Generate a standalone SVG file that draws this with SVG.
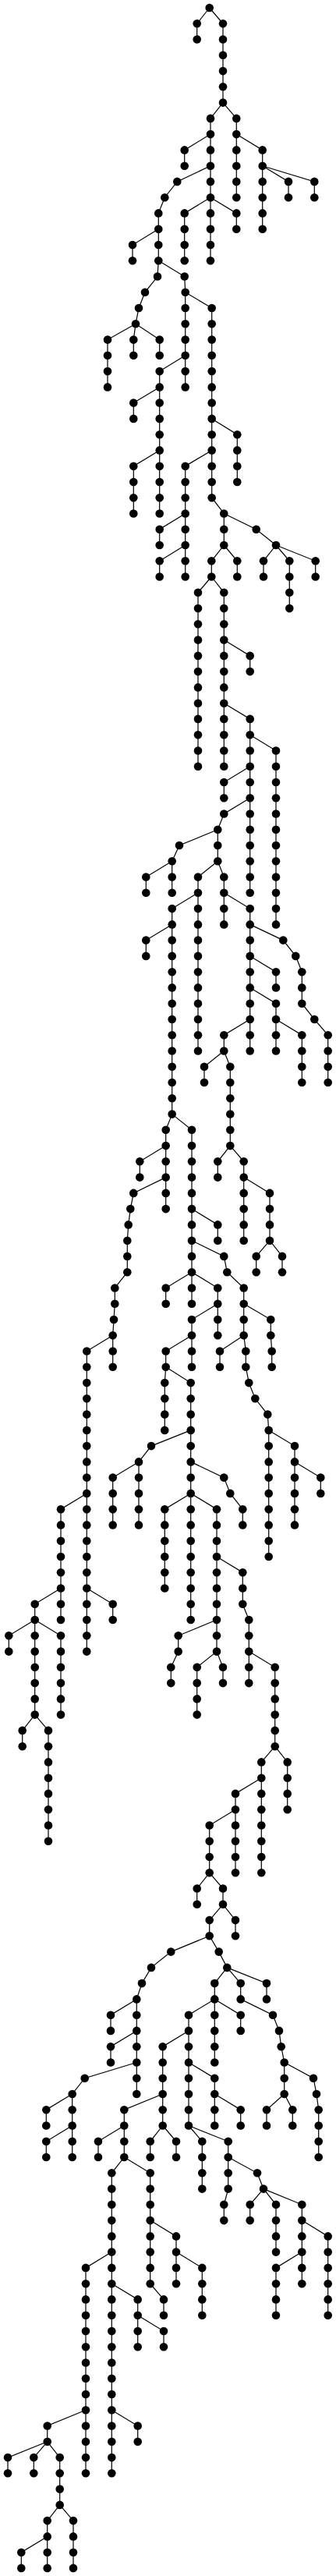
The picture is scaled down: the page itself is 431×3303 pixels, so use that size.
<svg xmlns="http://www.w3.org/2000/svg" width="431" height="3303" viewBox="0 0 431 3303">
<style>
circle{r:5.3px;fill:#000}
#edges path{fill:none;stroke:#000;stroke-width:1.2}
</style>
<rect width="431" height="3303" fill="#fff"/>
<g id="edges">
<path d="M268.7 10L252.7 30.3V50.5"/>
<path d="M268.7 10L286 30.3V131.6"/>
<path d="M286 131.6L270 151.9V334.2"/>
<path d="M286 131.6L303.3 151.9V253.2"/>
<path d="M270 172.1L236.7 192.4V212.7"/>
<path d="M303.3 172.1L336.7 192.4V293.7"/>
<path d="M336.7 212.7L370 232.9V253.2"/>
<path d="M336.7 212.7L403.3 232.9V253.2"/>
<path d="M270 212.7L227.3 232.9L211.3 253.2L203.3 273.4V334.2"/>
<path d="M203.3 293.7L170 314V334.2"/>
<path d="M270 253.2L236.7 273.4V334.2"/>
<path d="M270 253.2L303.3 273.4V293.7"/>
<path d="M203.3 334.2L202 354.5L186 374.8L178 395L174 415.3"/>
<path d="M174 415.3L138 435.6V496.4"/>
<path d="M174 415.3L171.3 435.6V455.8"/>
<path d="M174 415.3L204.7 435.6V455.8"/>
<path d="M203.3 334.2L236.7 354.5L237.7 374.8V496.4"/>
<path d="M237.7 374.8L271.7 395V638.2L287.3 658.5V699"/>
<path d="M237.7 455.8L204.7 476.1V658.5"/>
<path d="M204.7 496.4L171.3 516.6V536.9"/>
<path d="M271.7 536.9L304.3 557.2V618"/>
<path d="M204.7 577.4L171.3 597.7V658.5"/>
<path d="M271.7 577.4L237.7 597.7V739.5"/>
<path d="M237.7 658.5L204.7 678.7V699"/>
<path d="M237.7 699L204.7 719.3V739.5"/>
<path d="M287.3 658.5L328.7 678.7L354 699"/>
<path d="M354 699L338 719.3V739.5"/>
<path d="M354 699L371.3 719.3V780.1"/>
<path d="M354 699L404.7 719.3V739.5"/>
<path d="M287.3 699L271.3 719.3V739.5"/>
<path d="M287.3 699L304.3 719.3V739.5"/>
<path d="M271.3 739.5L254 759.8V982.7"/>
<path d="M271.3 739.5L287.3 759.8V982.7"/>
<path d="M287.3 820.6L320.7 840.9V861.1"/>
<path d="M287.3 901.7L320.7 921.9V1144.8"/>
<path d="M320.7 942.2L354 962.5V1185.4"/>
<path d="M320.7 982.7L287.3 1003V1023.3"/>
<path d="M320.7 1023.3L287.3 1043.5L279.3 1063.8V1104.3"/>
<path d="M279.3 1063.8L230 1084L220.7 1104.3V1144.8"/>
<path d="M220.7 1104.3L187.3 1124.6V1144.8"/>
<path d="M279.3 1104.3L254 1124.6V1347.5"/>
<path d="M279.3 1104.3L287.3 1124.6V1185.4"/>
<path d="M254 1144.8L220.7 1165.1V1428.6"/>
<path d="M220.7 1185.4L187.3 1205.6V1225.9"/>
<path d="M287.3 1144.8L320.7 1165.1V1347.5"/>
<path d="M320.7 1185.4L363.3 1205.6L379.3 1225.9L387.3 1246.2V1286.7L403.3 1307L420.7 1327.2V1388"/>
<path d="M320.7 1225.9L354 1246.2V1266.4"/>
<path d="M320.7 1266.4L354 1286.7V1347.5"/>
<path d="M354 1307L387.3 1327.2V1388"/>
<path d="M320.7 1307L287.3 1327.2V1347.5"/>
<path d="M287.3 1347.5L262 1367.8V1388"/>
<path d="M287.3 1347.5L295.3 1367.8V1469.1"/>
<path d="M220.7 1428.6L212.7 1448.8V1550.1"/>
<path d="M220.7 1428.6L246 1448.8V1631.2"/>
<path d="M212.7 1469.1L179.3 1489.3V1509.6"/>
<path d="M212.7 1509.6L171.3 1529.9L167.3 1550.1L164.7 1570.4L163.3 1590.7V1631.2L147.3 1651.5V1671.7L146 1692L144.7 1712.3"/>
<path d="M144.7 1712.3L111.3 1732.5V2117.6"/>
<path d="M144.7 1712.3V1752.8"/>
<path d="M295.3 1469.1L279.3 1489.3V1509.6"/>
<path d="M295.3 1469.1L312.7 1489.3V1590.7"/>
<path d="M312.7 1509.6L346 1529.9V1590.7"/>
<path d="M346 1590.7L328.7 1610.9V1631.2"/>
<path d="M346 1590.7L362 1610.9V1631.2"/>
<path d="M246 1550.1L279.3 1570.4V1590.7"/>
<path d="M246 1590.7L287.3 1610.9L291.3 1631.2L312.7 1651.5V1712.3L315.3 1732.5V1752.8L319.3 1773.1L327.3 1793.3L343.3 1813.6L344.7 1833.9V1996"/>
<path d="M312.7 1671.7L347.3 1692V1712.3L348.7 1732.5V1752.8"/>
<path d="M312.7 1712.3L282 1732.5V1752.8"/>
<path d="M344.7 1833.9L378 1854.1V1955.4"/>
<path d="M378 1874.4L411.3 1894.6V1914.9"/>
<path d="M246 1631.2L212.7 1651.5V1671.7"/>
<path d="M246 1631.2V1671.7"/>
<path d="M246 1631.2L279.3 1651.5V1712.3"/>
<path d="M279.3 1671.7L246 1692V1752.8"/>
<path d="M246 1712.3L212.7 1732.5V1752.8L211.3 1773.1V1833.9"/>
<path d="M212.7 1752.8L244.7 1773.1V1914.9"/>
<path d="M244.7 1833.9L194 1854.1L178 1874.4V1955.4"/>
<path d="M178 1874.4L144.7 1894.6V1955.4"/>
<path d="M244.7 1874.4L287.3 1894.6L295.3 1914.9L311.3 1935.2V1955.4"/>
<path d="M111.3 1914.9L78 1935.2V2077"/>
<path d="M78 2036.5L44.7 2056.8V2198.6"/>
<path d="M44.7 2077L11.3 2097.3V2117.6"/>
<path d="M44.7 2077L78 2097.3V2198.6"/>
<path d="M111.3 2036.5L144.7 2056.8V2077"/>
<path d="M44.7 2198.6L28.7 2218.9V2239.2"/>
<path d="M44.7 2198.6L62 2218.9V2360.7"/>
<path d="M244.7 1914.9L211.3 1935.2V2036.5"/>
<path d="M244.7 1914.9V2077"/>
<path d="M244.7 1914.9L278 1935.2V2117.6"/>
<path d="M278 1996L311.3 2016.2V2056.8L319.3 2077V2117.6"/>
<path d="M278 2077L228.7 2097.3V2117.6L219.3 2137.8V2158.1"/>
<path d="M278 2117.6L252.7 2137.8V2198.6"/>
<path d="M278 2117.6L286 2137.8V2158.1"/>
<path d="M319.3 2117.6V2158.1"/>
<path d="M319.3 2117.6L352.7 2137.8V2239.2"/>
<path d="M352.7 2239.2L368.7 2259.4V2320.2"/>
<path d="M352.7 2239.2L335.3 2259.4V2401.3"/>
<path d="M335.3 2279.7L302 2299.9V2401.3"/>
<path d="M302 2320.2L268.7 2340.5V2401.3"/>
<path d="M268.7 2401.3L252.7 2421.5V2441.8"/>
<path d="M268.7 2401.3L286 2421.5V2441.8"/>
<path d="M286 2441.8L302 2462.1V2482.3"/>
<path d="M286 2441.8L268.7 2462.1V2482.3"/>
<path d="M268.7 2482.3L219.3 2502.6L194 2522.9L182 2543.1L175.3 2563.4V2685"/>
<path d="M175.3 2563.4L142 2583.7V2603.9"/>
<path d="M175.3 2603.9L142 2624.2V2644.5"/>
<path d="M175.3 2644.5L108.7 2664.7L92.7 2685V2766"/>
<path d="M92.7 2685L59.3 2705.2V2725.5"/>
<path d="M92.7 2725.5L59.3 2745.8V2766"/>
<path d="M268.7 2482.3L280.7 2502.6L291.3 2522.9"/>
<path d="M291.3 2522.9L275.3 2543.1V2644.5"/>
<path d="M291.3 2522.9L308.7 2543.1V2563.4"/>
<path d="M291.3 2522.9L342 2543.1V2563.4"/>
<path d="M308.7 2563.4L350 2583.7L358 2603.9L360.7 2624.2L364.7 2644.5V2685"/>
<path d="M275.3 2563.4L242 2583.7V2725.5"/>
<path d="M275.3 2563.4L308.7 2583.7V2603.9"/>
<path d="M242 2603.9L208.7 2624.2V2725.5"/>
<path d="M242 2644.5L275.3 2664.7V2725.5"/>
<path d="M364.7 2644.5L402 2664.7L406 2685L408.7 2705.2V2766"/>
<path d="M364.7 2685L342 2705.2V2725.5"/>
<path d="M364.7 2685L375.3 2705.2V2725.5"/>
<path d="M275.3 2685L308.7 2705.2V2725.5"/>
<path d="M208.7 2685L159.3 2705.2V2766"/>
<path d="M159.3 2725.5L126 2745.8V2766"/>
<path d="M208.7 2725.5L192.7 2745.8V2766"/>
<path d="M208.7 2725.5L226 2745.8V2766"/>
<path d="M242 2725.5L259.3 2745.8V2806.6"/>
<path d="M242 2725.5L292.7 2745.8V2806.6L287.3 2826.8V2847.1"/>
<path d="M292.7 2766L330 2786.3L338 2806.6"/>
<path d="M338 2806.6L320.7 2826.8V2847.1"/>
<path d="M338 2806.6L354 2826.8V2887.6"/>
<path d="M338 2806.6L387.3 2826.8V2928.2"/>
<path d="M387.3 2847.1L420.7 2867.4V2968.7"/>
<path d="M387.3 2887.6L354 2907.9V2968.7"/>
<path d="M159.3 2766L143.3 2786.3V3171.3"/>
<path d="M159.3 2766L192.7 2786.3V2928.2L210 2948.4V2968.7"/>
<path d="M192.7 2847.1L226 2867.4V2928.2"/>
<path d="M226 2887.6L259.3 2907.9V2968.7"/>
<path d="M143.3 2887.6L110 2907.9V3171.3"/>
<path d="M143.3 2928.2L176.7 2948.4V3009.2"/>
<path d="M176.7 2968.7L210 2989V3009.2"/>
<path d="M110 3090.3L60.7 3110.5V3130.8"/>
<path d="M143.3 3090.3L176.7 3110.5V3130.8"/>
<path d="M60.7 3130.8L10 3151.1V3171.3"/>
<path d="M60.7 3130.8L43.3 3151.1V3171.3"/>
<path d="M60.7 3130.8L76.7 3151.1V3211.9"/>
<path d="M76.7 3211.9L60.7 3232.1V3292.9"/>
<path d="M76.7 3211.9L94 3232.1V3292.9"/>
<path d="M60.7 3252.4L27.3 3272.7V3292.9"/>
</g>
<g id="nodes">
<g id="A0"><circle cx="268.7" cy="10"/></g>
<g id="B0"><circle cx="252.7" cy="30.3"/></g><g id="B1"><circle cx="252.7" cy="50.5"/></g>
<g id="C0"><circle cx="286" cy="30.3"/></g><g id="C1"><circle cx="286" cy="50.5"/></g><g id="C2"><circle cx="286" cy="70.8"/></g><g id="C3"><circle cx="286" cy="91.1"/></g><g id="C4"><circle cx="286" cy="111.3"/></g><g id="C5"><circle cx="286" cy="131.6"/></g>
<g id="D0"><circle cx="270" cy="151.9"/></g><g id="D1"><circle cx="270" cy="172.1"/></g><g id="D2"><circle cx="270" cy="192.4"/></g><g id="D3"><circle cx="270" cy="212.7"/></g><g id="D4"><circle cx="270" cy="232.9"/></g><g id="D5"><circle cx="270" cy="253.2"/></g><g id="D6"><circle cx="270" cy="273.4"/></g><g id="D7"><circle cx="270" cy="293.7"/></g><g id="D8"><circle cx="270" cy="314"/></g><g id="D9"><circle cx="270" cy="334.2"/></g>
<g id="E0"><circle cx="303.3" cy="151.9"/></g><g id="E1"><circle cx="303.3" cy="172.1"/></g><g id="E2"><circle cx="303.3" cy="192.4"/></g><g id="E3"><circle cx="303.3" cy="212.7"/></g><g id="E4"><circle cx="303.3" cy="232.9"/></g><g id="E5"><circle cx="303.3" cy="253.2"/></g>
<g id="F0"><circle cx="236.7" cy="192.4"/></g><g id="F1"><circle cx="236.7" cy="212.7"/></g>
<g id="G0"><circle cx="336.7" cy="192.4"/></g><g id="G1"><circle cx="336.7" cy="212.7"/></g><g id="G2"><circle cx="336.7" cy="232.9"/></g><g id="G3"><circle cx="336.7" cy="253.2"/></g><g id="G4"><circle cx="336.7" cy="273.4"/></g><g id="G5"><circle cx="336.7" cy="293.7"/></g>
<g id="I0"><circle cx="370" cy="232.9"/></g><g id="I1"><circle cx="370" cy="253.2"/></g>
<g id="J0"><circle cx="403.3" cy="232.9"/></g><g id="J1"><circle cx="403.3" cy="253.2"/></g>
<g id="H0"><circle cx="227.3" cy="232.9"/></g><g id="H1"><circle cx="211.3" cy="253.2"/></g><g id="H2"><circle cx="203.3" cy="273.4"/></g><g id="H3"><circle cx="203.3" cy="293.7"/></g><g id="H4"><circle cx="203.3" cy="314"/></g><g id="H5"><circle cx="203.3" cy="334.2"/></g>
<g id="M0"><circle cx="170" cy="314"/></g><g id="M1"><circle cx="170" cy="334.2"/></g>
<g id="K0"><circle cx="236.7" cy="273.4"/></g><g id="K1"><circle cx="236.7" cy="293.7"/></g><g id="K2"><circle cx="236.7" cy="314"/></g><g id="K3"><circle cx="236.7" cy="334.2"/></g>
<g id="L0"><circle cx="303.3" cy="273.4"/></g><g id="L1"><circle cx="303.3" cy="293.7"/></g>
<g id="N0"><circle cx="202" cy="354.5"/></g><g id="N1"><circle cx="186" cy="374.8"/></g><g id="N2"><circle cx="178" cy="395"/></g><g id="N3"><circle cx="174" cy="415.3"/></g>
<g id="Q0"><circle cx="138" cy="435.6"/></g><g id="Q1"><circle cx="138" cy="455.8"/></g><g id="Q2"><circle cx="138" cy="476.1"/></g><g id="Q3"><circle cx="138" cy="496.4"/></g>
<g id="R0"><circle cx="171.3" cy="435.6"/></g><g id="R1"><circle cx="171.3" cy="455.8"/></g>
<g id="S0"><circle cx="204.7" cy="435.6"/></g><g id="S1"><circle cx="204.7" cy="455.8"/></g>
<g id="O0"><circle cx="236.7" cy="354.5"/></g><g id="O1"><circle cx="237.7" cy="374.8"/></g><g id="O2"><circle cx="237.7" cy="395"/></g><g id="O3"><circle cx="237.7" cy="415.3"/></g><g id="O4"><circle cx="237.7" cy="435.6"/></g><g id="O5"><circle cx="237.7" cy="455.8"/></g><g id="O6"><circle cx="237.7" cy="476.1"/></g><g id="O7"><circle cx="237.7" cy="496.4"/></g>
<g id="P0"><circle cx="271.7" cy="395"/></g><g id="P1"><circle cx="271.7" cy="415.3"/></g><g id="P2"><circle cx="271.7" cy="435.6"/></g><g id="P3"><circle cx="271.7" cy="455.8"/></g><g id="P4"><circle cx="271.7" cy="476.1"/></g><g id="P5"><circle cx="271.7" cy="496.4"/></g><g id="P6"><circle cx="271.7" cy="516.6"/></g><g id="P7"><circle cx="271.7" cy="536.9"/></g><g id="P8"><circle cx="271.7" cy="557.2"/></g><g id="P9"><circle cx="271.7" cy="577.4"/></g><g id="P10"><circle cx="271.7" cy="597.7"/></g><g id="P11"><circle cx="271.7" cy="618"/></g><g id="P12"><circle cx="271.7" cy="638.2"/></g><g id="P13"><circle cx="287.3" cy="658.5"/></g><g id="P14"><circle cx="287.3" cy="678.7"/></g><g id="P15"><circle cx="287.3" cy="699"/></g>
<g id="T0"><circle cx="204.7" cy="476.1"/></g><g id="T1"><circle cx="204.7" cy="496.4"/></g><g id="T2"><circle cx="204.7" cy="516.6"/></g><g id="T3"><circle cx="204.7" cy="536.9"/></g><g id="T4"><circle cx="204.7" cy="557.2"/></g><g id="T5"><circle cx="204.7" cy="577.4"/></g><g id="T6"><circle cx="204.7" cy="597.7"/></g><g id="T7"><circle cx="204.7" cy="618"/></g><g id="T8"><circle cx="204.7" cy="638.2"/></g><g id="T9"><circle cx="204.7" cy="658.5"/></g>
<g id="U0"><circle cx="171.3" cy="516.6"/></g><g id="U1"><circle cx="171.3" cy="536.9"/></g>
<g id="V0"><circle cx="304.3" cy="557.2"/></g><g id="V1"><circle cx="304.3" cy="577.4"/></g><g id="V2"><circle cx="304.3" cy="597.7"/></g><g id="V3"><circle cx="304.3" cy="618"/></g>
<g id="W0"><circle cx="171.3" cy="597.7"/></g><g id="W1"><circle cx="171.3" cy="618"/></g><g id="W2"><circle cx="171.3" cy="638.2"/></g><g id="W3"><circle cx="171.3" cy="658.5"/></g>
<g id="X0"><circle cx="237.7" cy="597.7"/></g><g id="X1"><circle cx="237.7" cy="618"/></g><g id="X2"><circle cx="237.7" cy="638.2"/></g><g id="X3"><circle cx="237.7" cy="658.5"/></g><g id="X4"><circle cx="237.7" cy="678.7"/></g><g id="X5"><circle cx="237.7" cy="699"/></g><g id="X6"><circle cx="237.7" cy="719.3"/></g><g id="X7"><circle cx="237.7" cy="739.5"/></g>
<g id="Z0"><circle cx="204.7" cy="678.7"/></g><g id="Z1"><circle cx="204.7" cy="699"/></g>
<g id="AB0"><circle cx="204.7" cy="719.3"/></g><g id="AB1"><circle cx="204.7" cy="739.5"/></g>
<g id="AA0"><circle cx="328.7" cy="678.7"/></g><g id="AA1"><circle cx="354" cy="699"/></g>
<g id="AE0"><circle cx="338" cy="719.3"/></g><g id="AE1"><circle cx="338" cy="739.5"/></g>
<g id="AF0"><circle cx="371.3" cy="719.3"/></g><g id="AF1"><circle cx="371.3" cy="739.5"/></g><g id="AF2"><circle cx="371.3" cy="759.8"/></g><g id="AF3"><circle cx="371.3" cy="780.1"/></g>
<g id="AG0"><circle cx="404.7" cy="719.3"/></g><g id="AG1"><circle cx="404.7" cy="739.5"/></g>
<g id="AC0"><circle cx="271.3" cy="719.3"/></g><g id="AC1"><circle cx="271.3" cy="739.5"/></g>
<g id="AD0"><circle cx="304.3" cy="719.3"/></g><g id="AD1"><circle cx="304.3" cy="739.5"/></g>
<g id="AH0"><circle cx="254" cy="759.8"/></g><g id="AH1"><circle cx="254" cy="780.1"/></g><g id="AH2"><circle cx="254" cy="800.3"/></g><g id="AH3"><circle cx="254" cy="820.6"/></g><g id="AH4"><circle cx="254" cy="840.9"/></g><g id="AH5"><circle cx="254" cy="861.1"/></g><g id="AH6"><circle cx="254" cy="881.4"/></g><g id="AH7"><circle cx="254" cy="901.7"/></g><g id="AH8"><circle cx="254" cy="921.9"/></g><g id="AH9"><circle cx="254" cy="942.2"/></g><g id="AH10"><circle cx="254" cy="962.5"/></g><g id="AH11"><circle cx="254" cy="982.7"/></g>
<g id="AI0"><circle cx="287.3" cy="759.8"/></g><g id="AI1"><circle cx="287.3" cy="780.1"/></g><g id="AI2"><circle cx="287.3" cy="800.3"/></g><g id="AI3"><circle cx="287.3" cy="820.6"/></g><g id="AI4"><circle cx="287.3" cy="840.9"/></g><g id="AI5"><circle cx="287.3" cy="861.1"/></g><g id="AI6"><circle cx="287.3" cy="881.4"/></g><g id="AI7"><circle cx="287.3" cy="901.7"/></g><g id="AI8"><circle cx="287.3" cy="921.9"/></g><g id="AI9"><circle cx="287.3" cy="942.2"/></g><g id="AI10"><circle cx="287.3" cy="962.5"/></g><g id="AI11"><circle cx="287.3" cy="982.7"/></g>
<g id="AJ0"><circle cx="320.7" cy="840.9"/></g><g id="AJ1"><circle cx="320.7" cy="861.1"/></g>
<g id="AK0"><circle cx="320.7" cy="921.9"/></g><g id="AK1"><circle cx="320.7" cy="942.2"/></g><g id="AK2"><circle cx="320.7" cy="962.5"/></g><g id="AK3"><circle cx="320.7" cy="982.7"/></g><g id="AK4"><circle cx="320.7" cy="1003"/></g><g id="AK5"><circle cx="320.7" cy="1023.3"/></g><g id="AK6"><circle cx="320.7" cy="1043.5"/></g><g id="AK7"><circle cx="320.7" cy="1063.8"/></g><g id="AK8"><circle cx="320.7" cy="1084"/></g><g id="AK9"><circle cx="320.7" cy="1104.3"/></g><g id="AK10"><circle cx="320.7" cy="1124.6"/></g><g id="AK11"><circle cx="320.7" cy="1144.8"/></g>
<g id="AL0"><circle cx="354" cy="962.5"/></g><g id="AL1"><circle cx="354" cy="982.7"/></g><g id="AL2"><circle cx="354" cy="1003"/></g><g id="AL3"><circle cx="354" cy="1023.3"/></g><g id="AL4"><circle cx="354" cy="1043.5"/></g><g id="AL5"><circle cx="354" cy="1063.8"/></g><g id="AL6"><circle cx="354" cy="1084"/></g><g id="AL7"><circle cx="354" cy="1104.3"/></g><g id="AL8"><circle cx="354" cy="1124.6"/></g><g id="AL9"><circle cx="354" cy="1144.8"/></g><g id="AL10"><circle cx="354" cy="1165.1"/></g><g id="AL11"><circle cx="354" cy="1185.4"/></g>
<g id="AM0"><circle cx="287.3" cy="1003"/></g><g id="AM1"><circle cx="287.3" cy="1023.3"/></g>
<g id="AN0"><circle cx="287.3" cy="1043.5"/></g><g id="AN1"><circle cx="279.3" cy="1063.8"/></g><g id="AN2"><circle cx="279.3" cy="1084"/></g><g id="AN3"><circle cx="279.3" cy="1104.3"/></g>
<g id="AO0"><circle cx="230" cy="1084"/></g><g id="AO1"><circle cx="220.7" cy="1104.3"/></g><g id="AO2"><circle cx="220.7" cy="1124.6"/></g><g id="AO3"><circle cx="220.7" cy="1144.8"/></g>
<g id="AP0"><circle cx="187.3" cy="1124.6"/></g><g id="AP1"><circle cx="187.3" cy="1144.8"/></g>
<g id="AQ0"><circle cx="254" cy="1124.6"/></g><g id="AQ1"><circle cx="254" cy="1144.8"/></g><g id="AQ2"><circle cx="254" cy="1165.1"/></g><g id="AQ3"><circle cx="254" cy="1185.4"/></g><g id="AQ4"><circle cx="254" cy="1205.6"/></g><g id="AQ5"><circle cx="254" cy="1225.9"/></g><g id="AQ6"><circle cx="254" cy="1246.2"/></g><g id="AQ7"><circle cx="254" cy="1266.4"/></g><g id="AQ8"><circle cx="254" cy="1286.7"/></g><g id="AQ9"><circle cx="254" cy="1307"/></g><g id="AQ10"><circle cx="254" cy="1327.2"/></g><g id="AQ11"><circle cx="254" cy="1347.5"/></g>
<g id="AR0"><circle cx="287.3" cy="1124.6"/></g><g id="AR1"><circle cx="287.3" cy="1144.8"/></g><g id="AR2"><circle cx="287.3" cy="1165.1"/></g><g id="AR3"><circle cx="287.3" cy="1185.4"/></g>
<g id="AS0"><circle cx="220.7" cy="1165.1"/></g><g id="AS1"><circle cx="220.7" cy="1185.4"/></g><g id="AS2"><circle cx="220.7" cy="1205.6"/></g><g id="AS3"><circle cx="220.7" cy="1225.9"/></g><g id="AS4"><circle cx="220.7" cy="1246.2"/></g><g id="AS5"><circle cx="220.7" cy="1266.4"/></g><g id="AS6"><circle cx="220.7" cy="1286.7"/></g><g id="AS7"><circle cx="220.7" cy="1307"/></g><g id="AS8"><circle cx="220.7" cy="1327.2"/></g><g id="AS9"><circle cx="220.7" cy="1347.5"/></g><g id="AS10"><circle cx="220.7" cy="1367.8"/></g><g id="AS11"><circle cx="220.7" cy="1388"/></g><g id="AS12"><circle cx="220.7" cy="1408.3"/></g><g id="AS13"><circle cx="220.7" cy="1428.6"/></g>
<g id="AU0"><circle cx="187.3" cy="1205.6"/></g><g id="AU1"><circle cx="187.3" cy="1225.9"/></g>
<g id="AT0"><circle cx="320.7" cy="1165.1"/></g><g id="AT1"><circle cx="320.7" cy="1185.4"/></g><g id="AT2"><circle cx="320.7" cy="1205.6"/></g><g id="AT3"><circle cx="320.7" cy="1225.9"/></g><g id="AT4"><circle cx="320.7" cy="1246.2"/></g><g id="AT5"><circle cx="320.7" cy="1266.4"/></g><g id="AT6"><circle cx="320.7" cy="1286.7"/></g><g id="AT7"><circle cx="320.7" cy="1307"/></g><g id="AT8"><circle cx="320.7" cy="1327.2"/></g><g id="AT9"><circle cx="320.7" cy="1347.5"/></g>
<g id="AV0"><circle cx="363.3" cy="1205.6"/></g><g id="AV1"><circle cx="379.3" cy="1225.9"/></g><g id="AV2"><circle cx="387.3" cy="1246.2"/></g><g id="AV3"><circle cx="387.3" cy="1266.4"/></g><g id="AV4"><circle cx="387.3" cy="1286.7"/></g><g id="AV5"><circle cx="403.3" cy="1307"/></g><g id="AV6"><circle cx="420.7" cy="1327.2"/></g><g id="AV7"><circle cx="420.7" cy="1347.5"/></g><g id="AV8"><circle cx="420.7" cy="1367.8"/></g><g id="AV9"><circle cx="420.7" cy="1388"/></g>
<g id="AW0"><circle cx="354" cy="1246.2"/></g><g id="AW1"><circle cx="354" cy="1266.4"/></g>
<g id="AX0"><circle cx="354" cy="1286.7"/></g><g id="AX1"><circle cx="354" cy="1307"/></g><g id="AX2"><circle cx="354" cy="1327.2"/></g><g id="AX3"><circle cx="354" cy="1347.5"/></g>
<g id="AZ0"><circle cx="387.3" cy="1327.2"/></g><g id="AZ1"><circle cx="387.3" cy="1347.5"/></g><g id="AZ2"><circle cx="387.3" cy="1367.8"/></g><g id="AZ3"><circle cx="387.3" cy="1388"/></g>
<g id="AY0"><circle cx="287.3" cy="1327.2"/></g><g id="AY1"><circle cx="287.3" cy="1347.5"/></g>
<g id="BA0"><circle cx="262" cy="1367.8"/></g><g id="BA1"><circle cx="262" cy="1388"/></g>
<g id="BB0"><circle cx="295.3" cy="1367.8"/></g><g id="BB1"><circle cx="295.3" cy="1388"/></g><g id="BB2"><circle cx="295.3" cy="1408.3"/></g><g id="BB3"><circle cx="295.3" cy="1428.6"/></g><g id="BB4"><circle cx="295.3" cy="1448.8"/></g><g id="BB5"><circle cx="295.3" cy="1469.1"/></g>
<g id="BC0"><circle cx="212.7" cy="1448.8"/></g><g id="BC1"><circle cx="212.7" cy="1469.1"/></g><g id="BC2"><circle cx="212.7" cy="1489.3"/></g><g id="BC3"><circle cx="212.7" cy="1509.6"/></g><g id="BC4"><circle cx="212.7" cy="1529.9"/></g><g id="BC5"><circle cx="212.7" cy="1550.1"/></g>
<g id="BD0"><circle cx="246" cy="1448.8"/></g><g id="BD1"><circle cx="246" cy="1469.1"/></g><g id="BD2"><circle cx="246" cy="1489.3"/></g><g id="BD3"><circle cx="246" cy="1509.6"/></g><g id="BD4"><circle cx="246" cy="1529.9"/></g><g id="BD5"><circle cx="246" cy="1550.1"/></g><g id="BD6"><circle cx="246" cy="1570.4"/></g><g id="BD7"><circle cx="246" cy="1590.7"/></g><g id="BD8"><circle cx="246" cy="1610.9"/></g><g id="BD9"><circle cx="246" cy="1631.2"/></g>
<g id="BE0"><circle cx="179.3" cy="1489.3"/></g><g id="BE1"><circle cx="179.3" cy="1509.6"/></g>
<g id="BH0"><circle cx="171.3" cy="1529.9"/></g><g id="BH1"><circle cx="167.3" cy="1550.1"/></g><g id="BH2"><circle cx="164.7" cy="1570.4"/></g><g id="BH3"><circle cx="163.3" cy="1590.7"/></g><g id="BH4"><circle cx="163.3" cy="1610.9"/></g><g id="BH5"><circle cx="163.3" cy="1631.2"/></g><g id="BH6"><circle cx="147.3" cy="1651.5"/></g><g id="BH7"><circle cx="147.3" cy="1671.7"/></g><g id="BH8"><circle cx="146" cy="1692"/></g><g id="BH9"><circle cx="144.7" cy="1712.3"/></g>
<g id="BU0"><circle cx="111.3" cy="1732.5"/></g><g id="BU1"><circle cx="111.3" cy="1752.8"/></g><g id="BU2"><circle cx="111.3" cy="1773.1"/></g><g id="BU3"><circle cx="111.3" cy="1793.3"/></g><g id="BU4"><circle cx="111.3" cy="1813.6"/></g><g id="BU5"><circle cx="111.3" cy="1833.9"/></g><g id="BU6"><circle cx="111.3" cy="1854.1"/></g><g id="BU7"><circle cx="111.3" cy="1874.4"/></g><g id="BU8"><circle cx="111.3" cy="1894.6"/></g><g id="BU9"><circle cx="111.3" cy="1914.9"/></g><g id="BU10"><circle cx="111.3" cy="1935.2"/></g><g id="BU11"><circle cx="111.3" cy="1955.4"/></g><g id="BU12"><circle cx="111.3" cy="1975.7"/></g><g id="BU13"><circle cx="111.3" cy="1996"/></g><g id="BU14"><circle cx="111.3" cy="2016.2"/></g><g id="BU15"><circle cx="111.3" cy="2036.5"/></g><g id="BU16"><circle cx="111.3" cy="2056.8"/></g><g id="BU17"><circle cx="111.3" cy="2077"/></g><g id="BU18"><circle cx="111.3" cy="2097.3"/></g><g id="BU19"><circle cx="111.3" cy="2117.6"/></g>
<g id="BNb0"><circle cx="144.7" cy="1732.5"/></g><g id="BNb1"><circle cx="144.7" cy="1752.8"/></g>
<g id="BF0"><circle cx="279.3" cy="1489.3"/></g><g id="BF1"><circle cx="279.3" cy="1509.6"/></g>
<g id="BG0"><circle cx="312.7" cy="1489.3"/></g><g id="BG1"><circle cx="312.7" cy="1509.6"/></g><g id="BG2"><circle cx="312.7" cy="1529.9"/></g><g id="BG3"><circle cx="312.7" cy="1550.1"/></g><g id="BG4"><circle cx="312.7" cy="1570.4"/></g><g id="BG5"><circle cx="312.7" cy="1590.7"/></g>
<g id="BI0"><circle cx="346" cy="1529.9"/></g><g id="BI1"><circle cx="346" cy="1550.1"/></g><g id="BI2"><circle cx="346" cy="1570.4"/></g><g id="BI3"><circle cx="346" cy="1590.7"/></g>
<g id="BL0"><circle cx="328.7" cy="1610.9"/></g><g id="BL1"><circle cx="328.7" cy="1631.2"/></g>
<g id="BM0"><circle cx="362" cy="1610.9"/></g><g id="BM1"><circle cx="362" cy="1631.2"/></g>
<g id="BJ0"><circle cx="279.3" cy="1570.4"/></g><g id="BJ1"><circle cx="279.3" cy="1590.7"/></g>
<g id="BK0"><circle cx="287.3" cy="1610.9"/></g><g id="BK1"><circle cx="291.3" cy="1631.2"/></g><g id="BK2"><circle cx="312.7" cy="1651.5"/></g><g id="BK3"><circle cx="312.7" cy="1671.7"/></g><g id="BK4"><circle cx="312.7" cy="1692"/></g><g id="BK5"><circle cx="312.7" cy="1712.3"/></g><g id="BK6"><circle cx="315.3" cy="1732.5"/></g><g id="BK7"><circle cx="315.3" cy="1752.8"/></g><g id="BK8"><circle cx="319.3" cy="1773.1"/></g><g id="BK9"><circle cx="327.3" cy="1793.3"/></g><g id="BK10"><circle cx="343.3" cy="1813.6"/></g><g id="BK11"><circle cx="344.7" cy="1833.9"/></g><g id="BK12"><circle cx="344.7" cy="1854.1"/></g><g id="BK13"><circle cx="344.7" cy="1874.4"/></g><g id="BK14"><circle cx="344.7" cy="1894.6"/></g><g id="BK15"><circle cx="344.7" cy="1914.9"/></g><g id="BK16"><circle cx="344.7" cy="1935.2"/></g><g id="BK17"><circle cx="344.7" cy="1955.4"/></g><g id="BK18"><circle cx="344.7" cy="1975.7"/></g><g id="BK19"><circle cx="344.7" cy="1996"/></g>
<g id="BT0"><circle cx="347.3" cy="1692"/></g><g id="BT1"><circle cx="347.3" cy="1712.3"/></g><g id="BT2"><circle cx="348.7" cy="1732.5"/></g><g id="BT3"><circle cx="348.7" cy="1752.8"/></g>
<g id="BW0"><circle cx="282" cy="1732.5"/></g><g id="BW1"><circle cx="282" cy="1752.8"/></g>
<g id="BZ0"><circle cx="378" cy="1854.1"/></g><g id="BZ1"><circle cx="378" cy="1874.4"/></g><g id="BZ2"><circle cx="378" cy="1894.6"/></g><g id="BZ3"><circle cx="378" cy="1914.9"/></g><g id="BZ4"><circle cx="378" cy="1935.2"/></g><g id="BZ5"><circle cx="378" cy="1955.4"/></g>
<g id="CB0"><circle cx="411.3" cy="1894.6"/></g><g id="CB1"><circle cx="411.3" cy="1914.9"/></g>
<g id="BO0"><circle cx="212.7" cy="1651.5"/></g><g id="BO1"><circle cx="212.7" cy="1671.7"/></g>
<g id="BP0"><circle cx="246" cy="1651.5"/></g><g id="BP1"><circle cx="246" cy="1671.7"/></g>
<g id="BQ0"><circle cx="279.3" cy="1651.5"/></g><g id="BQ1"><circle cx="279.3" cy="1671.7"/></g><g id="BQ2"><circle cx="279.3" cy="1692"/></g><g id="BQ3"><circle cx="279.3" cy="1712.3"/></g>
<g id="BS0"><circle cx="246" cy="1692"/></g><g id="BS1"><circle cx="246" cy="1712.3"/></g><g id="BS2"><circle cx="246" cy="1732.5"/></g><g id="BS3"><circle cx="246" cy="1752.8"/></g>
<g id="BV0"><circle cx="212.7" cy="1732.5"/></g><g id="BV1"><circle cx="212.7" cy="1752.8"/></g><g id="BV2"><circle cx="211.3" cy="1773.1"/></g><g id="BV3"><circle cx="211.3" cy="1793.3"/></g><g id="BV4"><circle cx="211.3" cy="1813.6"/></g><g id="BV5"><circle cx="211.3" cy="1833.9"/></g>
<g id="BX0"><circle cx="244.7" cy="1773.1"/></g><g id="BX1"><circle cx="244.7" cy="1793.3"/></g><g id="BX2"><circle cx="244.7" cy="1813.6"/></g><g id="BX3"><circle cx="244.7" cy="1833.9"/></g><g id="BX4"><circle cx="244.7" cy="1854.1"/></g><g id="BX5"><circle cx="244.7" cy="1874.4"/></g><g id="BX6"><circle cx="244.7" cy="1894.6"/></g><g id="BX7"><circle cx="244.7" cy="1914.9"/></g>
<g id="BY0"><circle cx="194" cy="1854.1"/></g><g id="BY1"><circle cx="178" cy="1874.4"/></g><g id="BY2"><circle cx="178" cy="1894.6"/></g><g id="BY3"><circle cx="178" cy="1914.9"/></g><g id="BY4"><circle cx="178" cy="1935.2"/></g><g id="BY5"><circle cx="178" cy="1955.4"/></g>
<g id="CC0"><circle cx="144.7" cy="1894.6"/></g><g id="CC1"><circle cx="144.7" cy="1914.9"/></g><g id="CC2"><circle cx="144.7" cy="1935.2"/></g><g id="CC3"><circle cx="144.7" cy="1955.4"/></g>
<g id="CA0"><circle cx="287.3" cy="1894.6"/></g><g id="CA1"><circle cx="295.3" cy="1914.9"/></g><g id="CA2"><circle cx="311.3" cy="1935.2"/></g><g id="CA3"><circle cx="311.3" cy="1955.4"/></g>
<g id="CD0"><circle cx="78" cy="1935.2"/></g><g id="CD1"><circle cx="78" cy="1955.4"/></g><g id="CD2"><circle cx="78" cy="1975.7"/></g><g id="CD3"><circle cx="78" cy="1996"/></g><g id="CD4"><circle cx="78" cy="2016.2"/></g><g id="CD5"><circle cx="78" cy="2036.5"/></g><g id="CD6"><circle cx="78" cy="2056.8"/></g><g id="CD7"><circle cx="78" cy="2077"/></g>
<g id="CI0"><circle cx="44.7" cy="2056.8"/></g><g id="CI1"><circle cx="44.7" cy="2077"/></g><g id="CI2"><circle cx="44.7" cy="2097.3"/></g><g id="CI3"><circle cx="44.7" cy="2117.6"/></g><g id="CI4"><circle cx="44.7" cy="2137.8"/></g><g id="CI5"><circle cx="44.7" cy="2158.1"/></g><g id="CI6"><circle cx="44.7" cy="2178.4"/></g><g id="CI7"><circle cx="44.7" cy="2198.6"/></g>
<g id="CJ0"><circle cx="11.3" cy="2097.3"/></g><g id="CJ1"><circle cx="11.3" cy="2117.6"/></g>
<g id="CK0"><circle cx="78" cy="2097.3"/></g><g id="CK1"><circle cx="78" cy="2117.6"/></g><g id="CK2"><circle cx="78" cy="2137.8"/></g><g id="CK3"><circle cx="78" cy="2158.1"/></g><g id="CK4"><circle cx="78" cy="2178.4"/></g><g id="CK5"><circle cx="78" cy="2198.6"/></g>
<g id="CL0"><circle cx="144.7" cy="2056.8"/></g><g id="CL1"><circle cx="144.7" cy="2077"/></g>
<g id="CR0"><circle cx="28.7" cy="2218.9"/></g><g id="CR1"><circle cx="28.7" cy="2239.2"/></g>
<g id="CS0"><circle cx="62" cy="2218.9"/></g><g id="CS1"><circle cx="62" cy="2239.2"/></g><g id="CS2"><circle cx="62" cy="2259.4"/></g><g id="CS3"><circle cx="62" cy="2279.7"/></g><g id="CS4"><circle cx="62" cy="2299.9"/></g><g id="CS5"><circle cx="62" cy="2320.2"/></g><g id="CS6"><circle cx="62" cy="2340.5"/></g><g id="CS7"><circle cx="62" cy="2360.7"/></g>
<g id="CE0"><circle cx="211.3" cy="1935.2"/></g><g id="CE1"><circle cx="211.3" cy="1955.4"/></g><g id="CE2"><circle cx="211.3" cy="1975.7"/></g><g id="CE3"><circle cx="211.3" cy="1996"/></g><g id="CE4"><circle cx="211.3" cy="2016.2"/></g><g id="CE5"><circle cx="211.3" cy="2036.5"/></g>
<g id="CF0"><circle cx="244.7" cy="1935.2"/></g><g id="CF1"><circle cx="244.7" cy="1955.4"/></g><g id="CF2"><circle cx="244.7" cy="1975.7"/></g><g id="CF3"><circle cx="244.7" cy="1996"/></g><g id="CF4"><circle cx="244.7" cy="2016.2"/></g><g id="CF5"><circle cx="244.7" cy="2036.5"/></g><g id="CF6"><circle cx="244.7" cy="2056.8"/></g><g id="CF7"><circle cx="244.7" cy="2077"/></g>
<g id="CG0"><circle cx="278" cy="1935.2"/></g><g id="CG1"><circle cx="278" cy="1955.4"/></g><g id="CG2"><circle cx="278" cy="1975.7"/></g><g id="CG3"><circle cx="278" cy="1996"/></g><g id="CG4"><circle cx="278" cy="2016.2"/></g><g id="CG5"><circle cx="278" cy="2036.5"/></g><g id="CG6"><circle cx="278" cy="2056.8"/></g><g id="CG7"><circle cx="278" cy="2077"/></g><g id="CG8"><circle cx="278" cy="2097.3"/></g><g id="CG9"><circle cx="278" cy="2117.6"/></g>
<g id="CH0"><circle cx="311.3" cy="2016.2"/></g><g id="CH1"><circle cx="311.3" cy="2036.5"/></g><g id="CH2"><circle cx="311.3" cy="2056.8"/></g><g id="CH3"><circle cx="319.3" cy="2077"/></g><g id="CH4"><circle cx="319.3" cy="2097.3"/></g><g id="CH5"><circle cx="319.3" cy="2117.6"/></g>
<g id="CM0"><circle cx="228.7" cy="2097.3"/></g><g id="CM1"><circle cx="228.7" cy="2117.6"/></g><g id="CM2"><circle cx="219.3" cy="2137.8"/></g><g id="CM3"><circle cx="219.3" cy="2158.1"/></g>
<g id="CP0"><circle cx="252.7" cy="2137.8"/></g><g id="CP1"><circle cx="252.7" cy="2158.1"/></g><g id="CP2"><circle cx="252.7" cy="2178.4"/></g><g id="CP3"><circle cx="252.7" cy="2198.6"/></g>
<g id="CQ0"><circle cx="286" cy="2137.8"/></g><g id="CQ1"><circle cx="286" cy="2158.1"/></g>
<g id="CN0"><circle cx="319.3" cy="2137.8"/></g><g id="CN1"><circle cx="319.3" cy="2158.1"/></g>
<g id="CO0"><circle cx="352.7" cy="2137.8"/></g><g id="CO1"><circle cx="352.7" cy="2158.1"/></g><g id="CO2"><circle cx="352.7" cy="2178.4"/></g><g id="CO3"><circle cx="352.7" cy="2198.6"/></g><g id="CO4"><circle cx="352.7" cy="2218.9"/></g><g id="CO5"><circle cx="352.7" cy="2239.2"/></g>
<g id="CU0"><circle cx="368.7" cy="2259.4"/></g><g id="CU1"><circle cx="368.7" cy="2279.7"/></g><g id="CU2"><circle cx="368.7" cy="2299.9"/></g><g id="CU3"><circle cx="368.7" cy="2320.2"/></g>
<g id="CT0"><circle cx="335.3" cy="2259.4"/></g><g id="CT1"><circle cx="335.3" cy="2279.7"/></g><g id="CT2"><circle cx="335.3" cy="2299.9"/></g><g id="CT3"><circle cx="335.3" cy="2320.2"/></g><g id="CT4"><circle cx="335.3" cy="2340.5"/></g><g id="CT5"><circle cx="335.3" cy="2360.7"/></g><g id="CT6"><circle cx="335.3" cy="2381"/></g><g id="CT7"><circle cx="335.3" cy="2401.3"/></g>
<g id="CV0"><circle cx="302" cy="2299.9"/></g><g id="CV1"><circle cx="302" cy="2320.2"/></g><g id="CV2"><circle cx="302" cy="2340.5"/></g><g id="CV3"><circle cx="302" cy="2360.7"/></g><g id="CV4"><circle cx="302" cy="2381"/></g><g id="CV5"><circle cx="302" cy="2401.3"/></g>
<g id="CW0"><circle cx="268.7" cy="2340.5"/></g><g id="CW1"><circle cx="268.7" cy="2360.7"/></g><g id="CW2"><circle cx="268.7" cy="2381"/></g><g id="CW3"><circle cx="268.7" cy="2401.3"/></g>
<g id="CX0"><circle cx="252.7" cy="2421.5"/></g><g id="CX1"><circle cx="252.7" cy="2441.8"/></g>
<g id="CY0"><circle cx="286" cy="2421.5"/></g><g id="CY1"><circle cx="286" cy="2441.8"/></g>
<g id="DA0"><circle cx="302" cy="2462.1"/></g><g id="DA1"><circle cx="302" cy="2482.3"/></g>
<g id="CZ0"><circle cx="268.7" cy="2462.1"/></g><g id="CZ1"><circle cx="268.7" cy="2482.3"/></g>
<g id="DB0"><circle cx="219.3" cy="2502.6"/></g><g id="DB1"><circle cx="194" cy="2522.9"/></g><g id="DB2"><circle cx="182" cy="2543.1"/></g><g id="DB3"><circle cx="175.3" cy="2563.4"/></g><g id="DB4"><circle cx="175.3" cy="2583.7"/></g><g id="DB5"><circle cx="175.3" cy="2603.9"/></g><g id="DB6"><circle cx="175.3" cy="2624.2"/></g><g id="DB7"><circle cx="175.3" cy="2644.5"/></g><g id="DB8"><circle cx="175.3" cy="2664.7"/></g><g id="DB9"><circle cx="175.3" cy="2685"/></g>
<g id="DG0"><circle cx="142" cy="2583.7"/></g><g id="DG1"><circle cx="142" cy="2603.9"/></g>
<g id="DK0"><circle cx="142" cy="2624.2"/></g><g id="DK1"><circle cx="142" cy="2644.5"/></g>
<g id="DM0"><circle cx="108.7" cy="2664.7"/></g><g id="DM1"><circle cx="92.7" cy="2685"/></g><g id="DM2"><circle cx="92.7" cy="2705.2"/></g><g id="DM3"><circle cx="92.7" cy="2725.5"/></g><g id="DM4"><circle cx="92.7" cy="2745.8"/></g><g id="DM5"><circle cx="92.7" cy="2766"/></g>
<g id="DT0"><circle cx="59.3" cy="2705.2"/></g><g id="DT1"><circle cx="59.3" cy="2725.5"/></g>
<g id="DU0"><circle cx="59.3" cy="2745.8"/></g><g id="DU1"><circle cx="59.3" cy="2766"/></g>
<g id="DC0"><circle cx="280.7" cy="2502.6"/></g><g id="DC1"><circle cx="291.3" cy="2522.9"/></g>
<g id="DD0"><circle cx="275.3" cy="2543.1"/></g><g id="DD1"><circle cx="275.3" cy="2563.4"/></g><g id="DD2"><circle cx="275.3" cy="2583.7"/></g><g id="DD3"><circle cx="275.3" cy="2603.9"/></g><g id="DD4"><circle cx="275.3" cy="2624.2"/></g><g id="DD5"><circle cx="275.3" cy="2644.5"/></g>
<g id="DE0"><circle cx="308.7" cy="2543.1"/></g><g id="DE1"><circle cx="308.7" cy="2563.4"/></g>
<g id="DF0"><circle cx="342" cy="2543.1"/></g><g id="DF1"><circle cx="342" cy="2563.4"/></g>
<g id="DJ0"><circle cx="350" cy="2583.7"/></g><g id="DJ1"><circle cx="358" cy="2603.9"/></g><g id="DJ2"><circle cx="360.7" cy="2624.2"/></g><g id="DJ3"><circle cx="364.7" cy="2644.5"/></g><g id="DJ4"><circle cx="364.7" cy="2664.7"/></g><g id="DJ5"><circle cx="364.7" cy="2685"/></g>
<g id="DH0"><circle cx="242" cy="2583.7"/></g><g id="DH1"><circle cx="242" cy="2603.9"/></g><g id="DH2"><circle cx="242" cy="2624.2"/></g><g id="DH3"><circle cx="242" cy="2644.5"/></g><g id="DH4"><circle cx="242" cy="2664.7"/></g><g id="DH5"><circle cx="242" cy="2685"/></g><g id="DH6"><circle cx="242" cy="2705.2"/></g><g id="DH7"><circle cx="242" cy="2725.5"/></g>
<g id="DI0"><circle cx="308.7" cy="2583.7"/></g><g id="DI1"><circle cx="308.7" cy="2603.9"/></g>
<g id="DL0"><circle cx="208.7" cy="2624.2"/></g><g id="DL1"><circle cx="208.7" cy="2644.5"/></g><g id="DL2"><circle cx="208.7" cy="2664.7"/></g><g id="DL3"><circle cx="208.7" cy="2685"/></g><g id="DL4"><circle cx="208.7" cy="2705.2"/></g><g id="DL5"><circle cx="208.7" cy="2725.5"/></g>
<g id="DN0"><circle cx="275.3" cy="2664.7"/></g><g id="DN1"><circle cx="275.3" cy="2685"/></g><g id="DN2"><circle cx="275.3" cy="2705.2"/></g><g id="DN3"><circle cx="275.3" cy="2725.5"/></g>
<g id="DO0"><circle cx="402" cy="2664.7"/></g><g id="DO1"><circle cx="406" cy="2685"/></g><g id="DO2"><circle cx="408.7" cy="2705.2"/></g><g id="DO3"><circle cx="408.7" cy="2725.5"/></g><g id="DO4"><circle cx="408.7" cy="2745.8"/></g><g id="DO5"><circle cx="408.7" cy="2766"/></g>
<g id="DR0"><circle cx="342" cy="2705.2"/></g><g id="DR1"><circle cx="342" cy="2725.5"/></g>
<g id="DS0"><circle cx="375.3" cy="2705.2"/></g><g id="DS1"><circle cx="375.3" cy="2725.5"/></g>
<g id="DQ0"><circle cx="308.7" cy="2705.2"/></g><g id="DQ1"><circle cx="308.7" cy="2725.5"/></g>
<g id="DP0"><circle cx="159.3" cy="2705.2"/></g><g id="DP1"><circle cx="159.3" cy="2725.5"/></g><g id="DP2"><circle cx="159.3" cy="2745.8"/></g><g id="DP3"><circle cx="159.3" cy="2766"/></g>
<g id="DV0"><circle cx="126" cy="2745.8"/></g><g id="DV1"><circle cx="126" cy="2766"/></g>
<g id="DW0"><circle cx="192.7" cy="2745.8"/></g><g id="DW1"><circle cx="192.7" cy="2766"/></g>
<g id="DX0"><circle cx="226" cy="2745.8"/></g><g id="DX1"><circle cx="226" cy="2766"/></g>
<g id="DY0"><circle cx="259.3" cy="2745.8"/></g><g id="DY1"><circle cx="259.3" cy="2766"/></g><g id="DY2"><circle cx="259.3" cy="2786.3"/></g><g id="DY3"><circle cx="259.3" cy="2806.6"/></g>
<g id="DZ0"><circle cx="292.7" cy="2745.8"/></g><g id="DZ1"><circle cx="292.7" cy="2766"/></g><g id="DZ2"><circle cx="292.7" cy="2786.3"/></g><g id="DZ3"><circle cx="292.7" cy="2806.6"/></g><g id="DZ4"><circle cx="287.3" cy="2826.8"/></g><g id="DZ5"><circle cx="287.3" cy="2847.1"/></g>
<g id="EC0"><circle cx="330" cy="2786.3"/></g><g id="EC1"><circle cx="338" cy="2806.6"/></g>
<g id="ED0"><circle cx="320.7" cy="2826.8"/></g><g id="ED1"><circle cx="320.7" cy="2847.1"/></g>
<g id="EE0"><circle cx="354" cy="2826.8"/></g><g id="EE1"><circle cx="354" cy="2847.1"/></g><g id="EE2"><circle cx="354" cy="2867.4"/></g><g id="EE3"><circle cx="354" cy="2887.6"/></g>
<g id="EF0"><circle cx="387.3" cy="2826.8"/></g><g id="EF1"><circle cx="387.3" cy="2847.1"/></g><g id="EF2"><circle cx="387.3" cy="2867.4"/></g><g id="EF3"><circle cx="387.3" cy="2887.6"/></g><g id="EF4"><circle cx="387.3" cy="2907.9"/></g><g id="EF5"><circle cx="387.3" cy="2928.2"/></g>
<g id="EH0"><circle cx="420.7" cy="2867.4"/></g><g id="EH1"><circle cx="420.7" cy="2887.6"/></g><g id="EH2"><circle cx="420.7" cy="2907.9"/></g><g id="EH3"><circle cx="420.7" cy="2928.2"/></g><g id="EH4"><circle cx="420.7" cy="2948.4"/></g><g id="EH5"><circle cx="420.7" cy="2968.7"/></g>
<g id="EK0"><circle cx="354" cy="2907.9"/></g><g id="EK1"><circle cx="354" cy="2928.2"/></g><g id="EK2"><circle cx="354" cy="2948.4"/></g><g id="EK3"><circle cx="354" cy="2968.7"/></g>
<g id="EA0"><circle cx="143.3" cy="2786.3"/></g><g id="EA1"><circle cx="143.3" cy="2806.6"/></g><g id="EA2"><circle cx="143.3" cy="2826.8"/></g><g id="EA3"><circle cx="143.3" cy="2847.1"/></g><g id="EA4"><circle cx="143.3" cy="2867.4"/></g><g id="EA5"><circle cx="143.3" cy="2887.6"/></g><g id="EA6"><circle cx="143.3" cy="2907.9"/></g><g id="EA7"><circle cx="143.3" cy="2928.2"/></g><g id="EA8"><circle cx="143.3" cy="2948.4"/></g><g id="EA9"><circle cx="143.3" cy="2968.7"/></g><g id="EA10"><circle cx="143.3" cy="2989"/></g><g id="EA11"><circle cx="143.3" cy="3009.2"/></g><g id="EA12"><circle cx="143.3" cy="3029.5"/></g><g id="EA13"><circle cx="143.3" cy="3049.8"/></g><g id="EA14"><circle cx="143.3" cy="3070"/></g><g id="EA15"><circle cx="143.3" cy="3090.3"/></g><g id="EA16"><circle cx="143.3" cy="3110.5"/></g><g id="EA17"><circle cx="143.3" cy="3130.8"/></g><g id="EA18"><circle cx="143.3" cy="3151.1"/></g><g id="EA19"><circle cx="143.3" cy="3171.3"/></g>
<g id="EB0"><circle cx="192.7" cy="2786.3"/></g><g id="EB1"><circle cx="192.7" cy="2806.6"/></g><g id="EB2"><circle cx="192.7" cy="2826.8"/></g><g id="EB3"><circle cx="192.7" cy="2847.1"/></g><g id="EB4"><circle cx="192.7" cy="2867.4"/></g><g id="EB5"><circle cx="192.7" cy="2887.6"/></g><g id="EB6"><circle cx="192.7" cy="2907.9"/></g><g id="EB7"><circle cx="192.7" cy="2928.2"/></g><g id="EB8"><circle cx="210" cy="2948.4"/></g><g id="EB9"><circle cx="210" cy="2968.7"/></g>
<g id="EG0"><circle cx="226" cy="2867.4"/></g><g id="EG1"><circle cx="226" cy="2887.6"/></g><g id="EG2"><circle cx="226" cy="2907.9"/></g><g id="EG3"><circle cx="226" cy="2928.2"/></g>
<g id="EJ0"><circle cx="259.3" cy="2907.9"/></g><g id="EJ1"><circle cx="259.3" cy="2928.2"/></g><g id="EJ2"><circle cx="259.3" cy="2948.4"/></g><g id="EJ3"><circle cx="259.3" cy="2968.7"/></g>
<g id="EI0"><circle cx="110" cy="2907.9"/></g><g id="EI1"><circle cx="110" cy="2928.2"/></g><g id="EI2"><circle cx="110" cy="2948.4"/></g><g id="EI3"><circle cx="110" cy="2968.7"/></g><g id="EI4"><circle cx="110" cy="2989"/></g><g id="EI5"><circle cx="110" cy="3009.2"/></g><g id="EI6"><circle cx="110" cy="3029.5"/></g><g id="EI7"><circle cx="110" cy="3049.8"/></g><g id="EI8"><circle cx="110" cy="3070"/></g><g id="EI9"><circle cx="110" cy="3090.3"/></g><g id="EI10"><circle cx="110" cy="3110.5"/></g><g id="EI11"><circle cx="110" cy="3130.8"/></g><g id="EI12"><circle cx="110" cy="3151.1"/></g><g id="EI13"><circle cx="110" cy="3171.3"/></g>
<g id="EL0"><circle cx="176.7" cy="2948.4"/></g><g id="EL1"><circle cx="176.7" cy="2968.7"/></g><g id="EL2"><circle cx="176.7" cy="2989"/></g><g id="EL3"><circle cx="176.7" cy="3009.2"/></g>
<g id="EM0"><circle cx="210" cy="2989"/></g><g id="EM1"><circle cx="210" cy="3009.2"/></g>
<g id="EN0"><circle cx="60.7" cy="3110.5"/></g><g id="EN1"><circle cx="60.7" cy="3130.8"/></g>
<g id="EO0"><circle cx="176.7" cy="3110.5"/></g><g id="EO1"><circle cx="176.7" cy="3130.8"/></g>
<g id="EP0"><circle cx="10" cy="3151.1"/></g><g id="EP1"><circle cx="10" cy="3171.3"/></g>
<g id="EQ0"><circle cx="43.3" cy="3151.1"/></g><g id="EQ1"><circle cx="43.3" cy="3171.3"/></g>
<g id="ER0"><circle cx="76.7" cy="3151.1"/></g><g id="ER1"><circle cx="76.7" cy="3171.3"/></g><g id="ER2"><circle cx="76.7" cy="3191.6"/></g><g id="ER3"><circle cx="76.7" cy="3211.9"/></g>
<g id="ES0"><circle cx="60.7" cy="3232.1"/></g><g id="ES1"><circle cx="60.7" cy="3252.4"/></g><g id="ES2"><circle cx="60.7" cy="3272.7"/></g><g id="ES3"><circle cx="60.7" cy="3292.9"/></g>
<g id="ET0"><circle cx="94" cy="3232.1"/></g><g id="ET1"><circle cx="94" cy="3252.4"/></g><g id="ET2"><circle cx="94" cy="3272.7"/></g><g id="ET3"><circle cx="94" cy="3292.9"/></g>
<g id="EU0"><circle cx="27.3" cy="3272.7"/></g><g id="EU1"><circle cx="27.3" cy="3292.9"/></g>
</g>
</svg>
